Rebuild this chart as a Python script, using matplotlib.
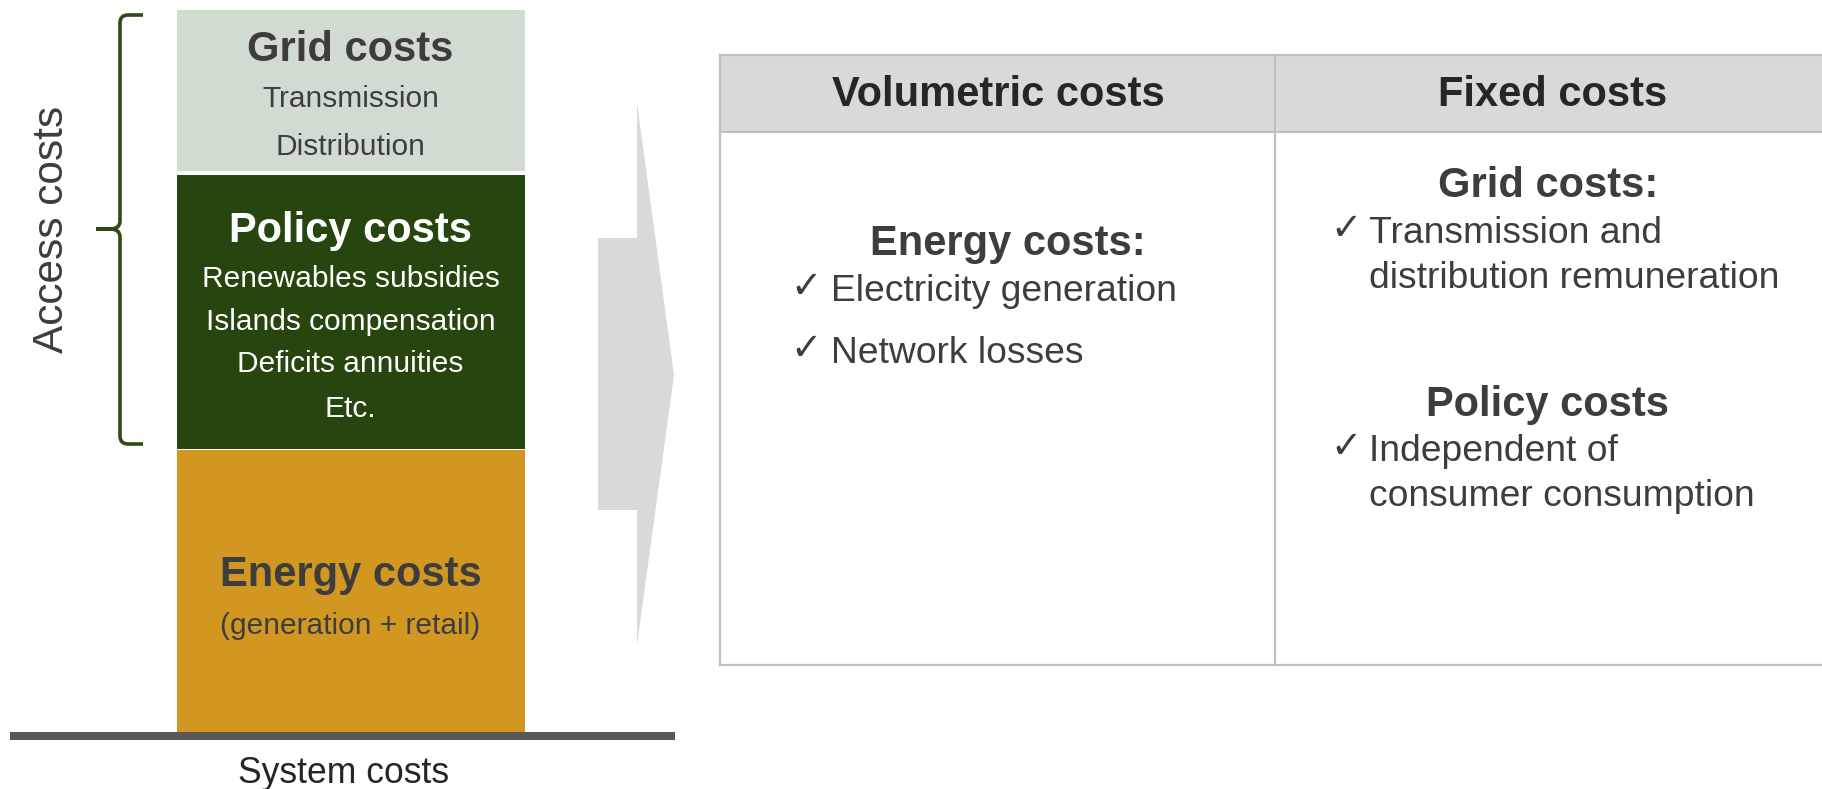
import matplotlib
matplotlib.use("Agg")
import matplotlib.pyplot as plt
from matplotlib.path import Path
from matplotlib.patches import PathPatch, Polygon, Rectangle

# ---------------- data ----------------
stack_names = ["Energy costs", "Policy costs", "Grid costs"]
stack_heights = [282, 274, 161]
stack_gaps = [1, 4]
stack_details = [
    ["(generation + retail)"],
    ["Renewables subsidies", "Islands compensation", "Deficits annuities", "Etc."],
    ["Transmission", "Distribution"],
]
access_label = "Access costs"
system_label = "System costs"
table_headers = ["Volumetric costs", "Fixed costs"]
vol_heading = "Energy costs:"
vol_items = ["Electricity generation", "Network losses"]
fixed_headings = ["Grid costs:", "Policy costs"]
fixed_items = [["Transmission and", "distribution remuneration"],
               ["Independent of", "consumer consumption"]]

# ---------------- style ----------------
W, H = 1822, 789
FONT = ["Liberation Sans", "DejaVu Sans"]
plt.rcParams["font.family"] = FONT
TXT = "#3d3d3d"
stack_colors = ["#D29721", "#27450F", "#D1DCD1"]
title_colors = [TXT, "white", TXT]

fig = plt.figure(figsize=(W / 100, H / 100), dpi=100)
ax = fig.add_axes([0, 0, 1, 1])
ax.set_xlim(0, W)
ax.set_ylim(0, H)
ax.axis("off")


def Y(p):
    return H - p


# ---------------- stacked column ----------------
base = Y(732)
bottoms = []
b = base
for i, h in enumerate(stack_heights):
    bottoms.append(b)
    b += h + (stack_gaps[i] if i < len(stack_gaps) else 0)
ax.bar([350.5] * 3, stack_heights, bottom=bottoms, width=348,
       color=stack_colors, linewidth=0, align="center")

# baseline
ax.plot([10, 675], [Y(736), Y(736)], color="#595959", lw=5.8,
        solid_capstyle="butt")

# texts in stack
title_base = [586, 242, 61]
detail_base = [[634], [287, 330, 372, 417], [107, 155]]
for i in range(3):
    ax.text(350.5, Y(title_base[i]), stack_names[i], ha="center", va="baseline",
            fontsize=30, fontweight="bold", color=title_colors[i])
    for t, yb in zip(stack_details[i], detail_base[i]):
        ax.text(350.5, Y(yb), t, ha="center", va="baseline", fontsize=21.5,
                color=title_colors[i])

ax.text(344, Y(783), system_label, ha="center", va="baseline", fontsize=25.6,
        color="#262626")

# bracket
bc = "#2F4A14"
verts = [(143, 15), (128, 15), (120, 15), (120, 23), (120, 221), (120, 229),
         (110, 229), (96, 229),
         (96, 229), (110, 229), (120, 229), (120, 237), (120, 436), (120, 444),
         (128, 444), (143, 444)]
codes = [Path.MOVETO, Path.LINETO, Path.CURVE3, Path.CURVE3, Path.LINETO,
         Path.CURVE3, Path.CURVE3, Path.LINETO,
         Path.MOVETO, Path.LINETO, Path.CURVE3, Path.CURVE3, Path.LINETO,
         Path.CURVE3, Path.CURVE3, Path.LINETO]
verts = [(x, Y(y)) for x, y in verts]
ax.add_patch(PathPatch(Path(verts, codes), fill=False, edgecolor=bc, lw=2.6,
                       capstyle="butt"))
ax.text(52, Y(229), access_label, rotation=90, ha="center", va="center",
        fontsize=30.5, color=TXT)

# big gray arrow
arrow = [(598, 238), (637, 238), (637, 103), (674, 375), (637, 645),
         (637, 510), (598, 510)]
ax.add_patch(Polygon([(x, Y(y)) for x, y in arrow], closed=True,
                     facecolor="#D9D9D9", edgecolor="none"))

# ---------------- table ----------------
L, R, T, B, HB, DV = 720, 1822, 55, 665, 132, 1275
gc = "#C0C0C0"
ax.add_patch(Rectangle((L, Y(HB)), R - L, HB - T, facecolor="#D9D9D9",
                       edgecolor="none"))
for (x0, y0, x1, y1) in [(L, T, R, T), (L, B, R, B), (L, HB, R, HB),
                         (L, T, L, B), (DV, T, DV, B)]:
    ax.plot([x0, x1], [Y(y0), Y(y1)], color=gc, lw=1.6, solid_capstyle="projecting")

ax.text(998, Y(106), table_headers[0], ha="center", va="baseline", fontsize=30,
        fontweight="bold", color="#262626")
ax.text(1553, Y(106), table_headers[1], ha="center", va="baseline", fontsize=30,
        fontweight="bold", color="#262626")

CHK = "\u2713"
ax.text(1008, Y(255), vol_heading, ha="center", va="baseline", fontsize=30,
        fontweight="bold", color=TXT)
for t, yb in zip(vol_items, [301, 363]):
    ax.text(790, Y(yb - 3), CHK, ha="left", va="baseline", fontsize=27,
            color=TXT, family=["DejaVu Sans"])
    ax.text(831, Y(yb), t, ha="left", va="baseline", fontsize=26.8, color=TXT)

head_base = [197, 416]
item_base = [[243, 288], [461, 506]]
for h, its, hb, ib in zip(fixed_headings, fixed_items, head_base, item_base):
    ax.text(1548, Y(hb), h, ha="center", va="baseline", fontsize=30,
            fontweight="bold", color=TXT)
    ax.text(1330, Y(ib[0] - 3), CHK, ha="left", va="baseline", fontsize=27,
            color=TXT, family=["DejaVu Sans"])
    for t, yb in zip(its, ib):
        ax.text(1369, Y(yb), t, ha="left", va="baseline", fontsize=26.8,
                color=TXT)

fig.savefig("out.png", dpi=100)
